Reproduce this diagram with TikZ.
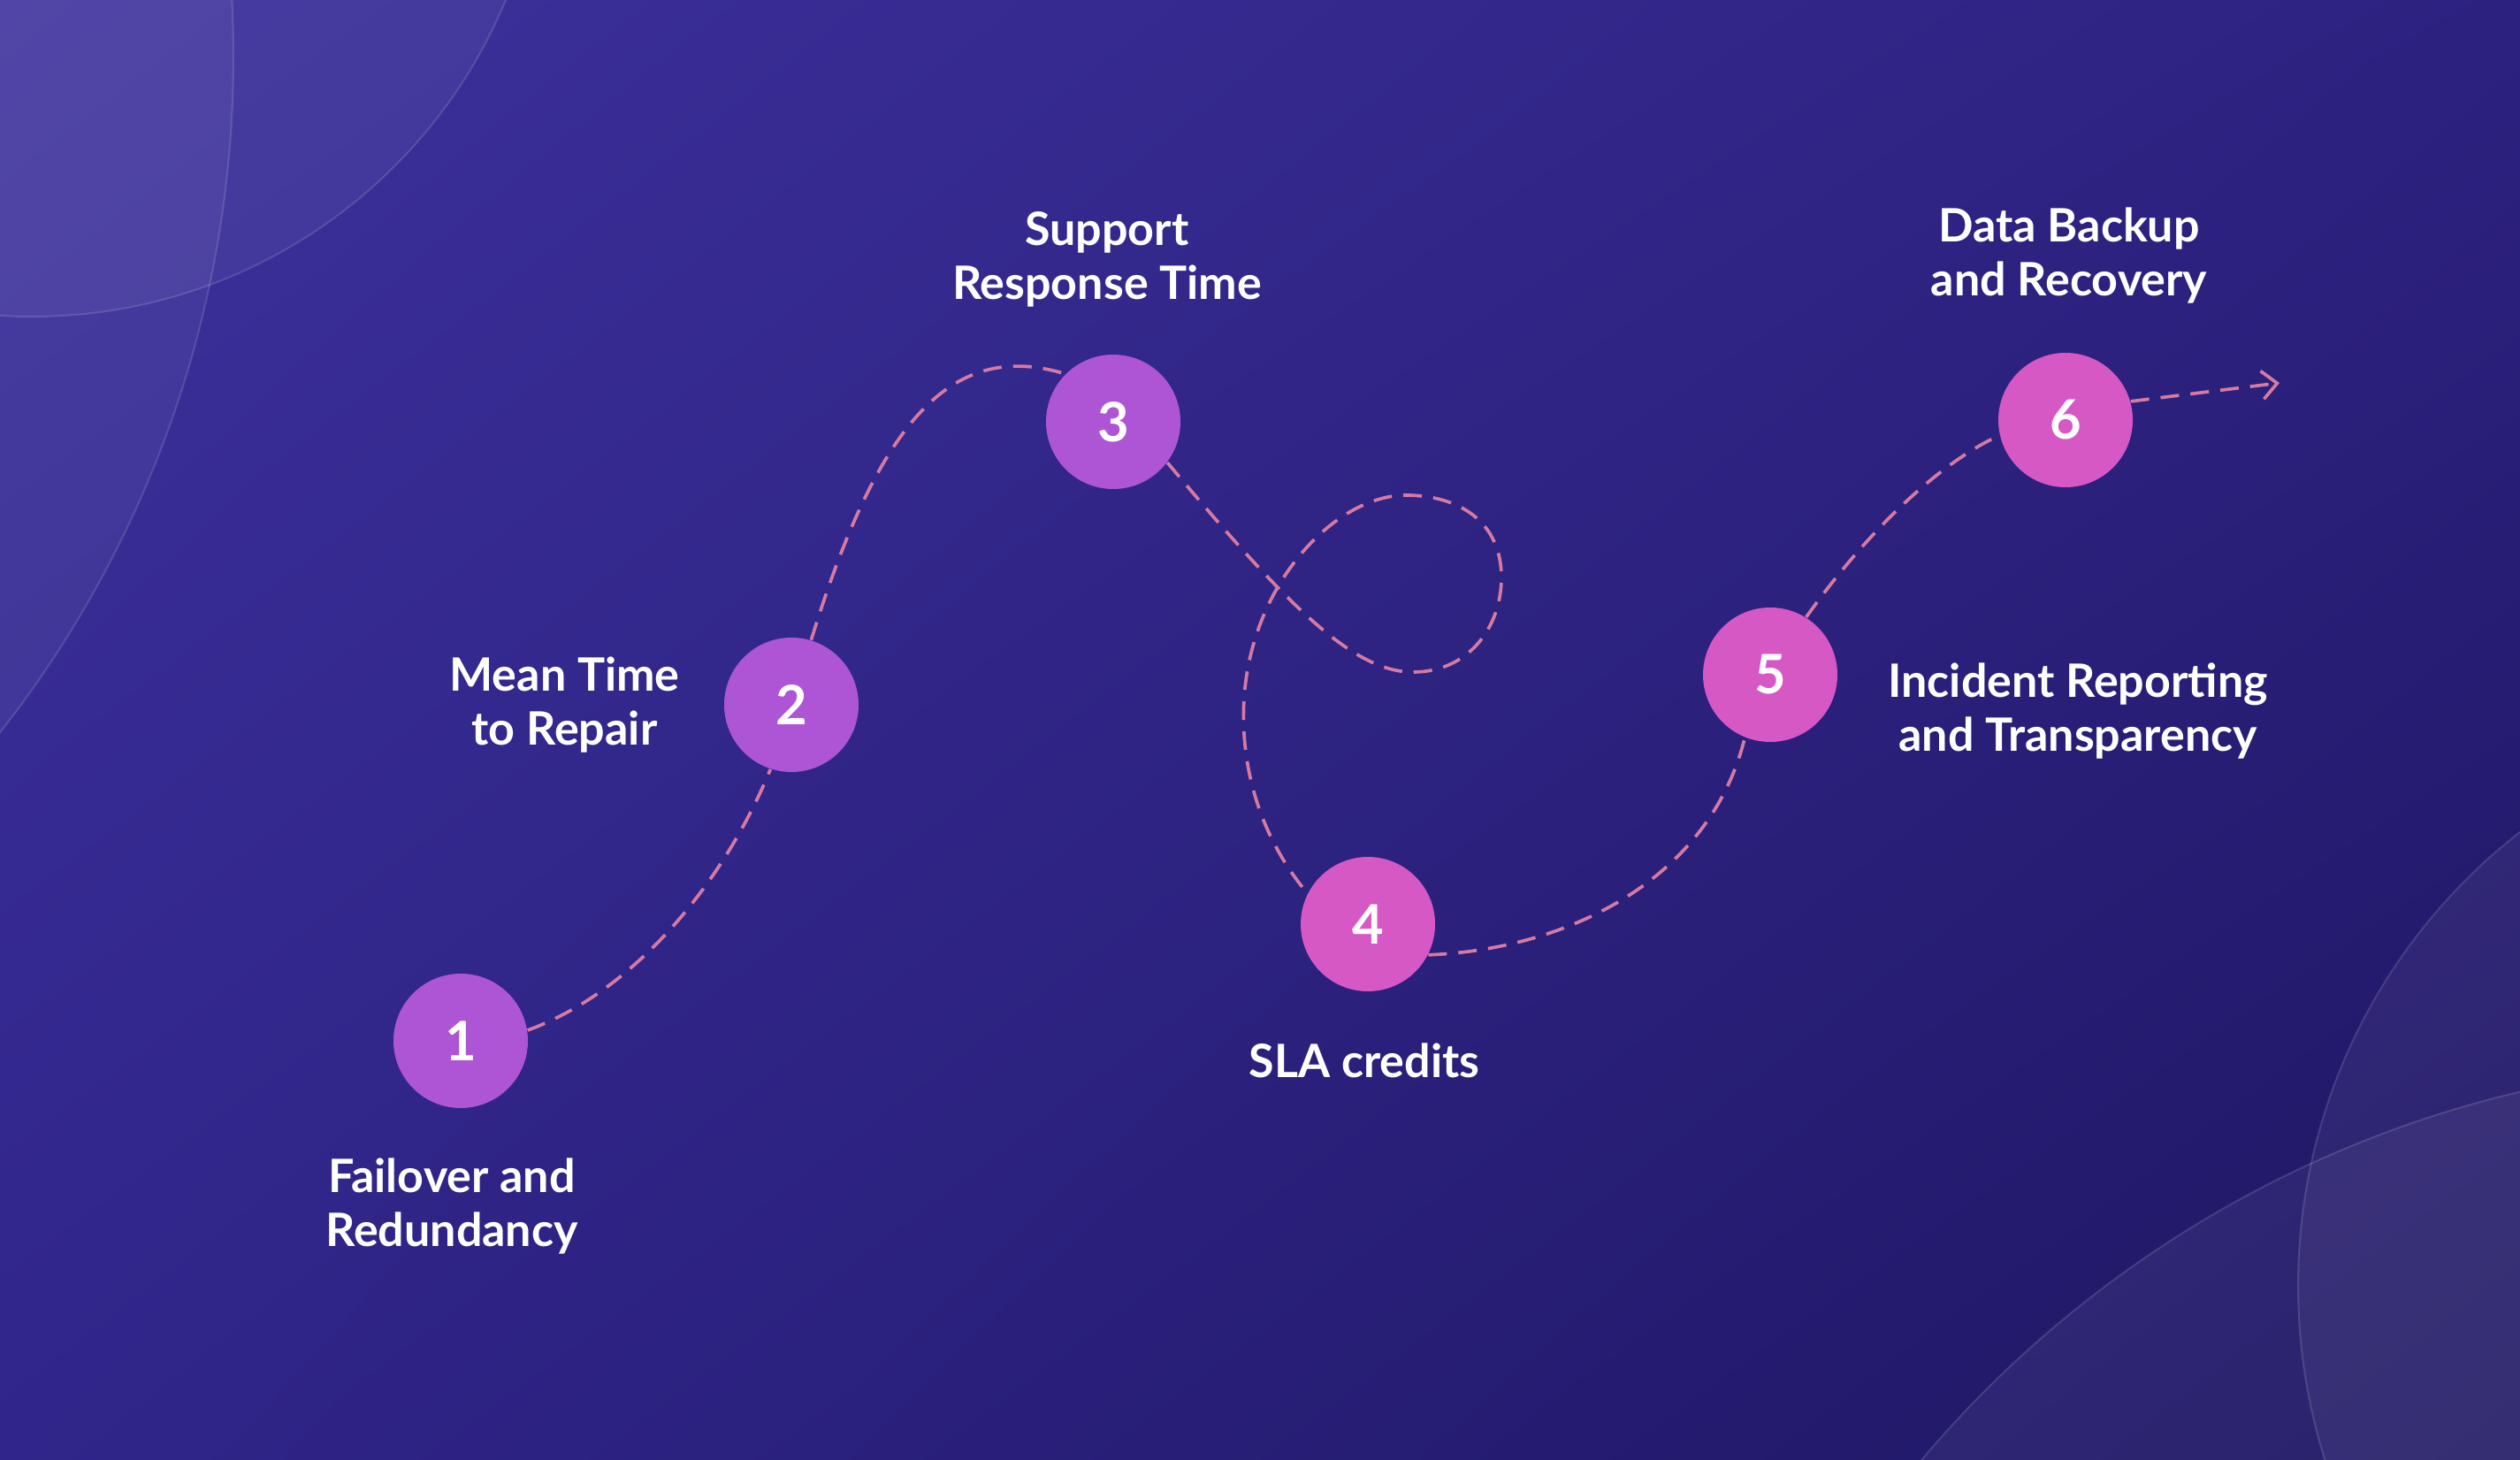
\documentclass[tikz,border=0pt]{standalone}
\usepackage{fontspec}
\setmainfont{Lato}
\usepackage{xcolor}
\usepackage{tikz}
\usetikzlibrary{arrows.meta,positioning,shadings}
\definecolor{bgtl}{HTML}{3D319D}
\definecolor{bgtr}{HTML}{2D2180}
\definecolor{bgbl}{HTML}{30258A}
\definecolor{bgbr}{HTML}{1E1662}
\definecolor{dotpurple}{HTML}{AD55D4}
\definecolor{dotpink}{HTML}{D558C5}
\definecolor{trailpink}{HTML}{D67AA2}

\begin{document}
\begin{tikzpicture}[
  stepdot/.style={circle, minimum size=1.52cm, inner sep=0pt, text=white, font=\fontsize{17.5}{17.5}\selectfont\bfseries},
  lbl/.style={align=center, inner sep=0pt, text=white, font=\fontsize{14.8}{17.5}\selectfont\bfseries},
  trail/.style={draw=trailpink, line width=1.05pt, dash pattern=on 2.1mm off 1.3mm},
  deco/.style={fill=white, fill opacity=0.055, draw=white, draw opacity=0.13, line width=0.6pt}
]
\useasboundingbox (0,0) rectangle (28.5,16.5);
\shade[upper left=bgtl, upper right=bgtr, lower left=bgbl, lower right=bgbr] (0,0) rectangle (28.5,16.5);
% background rings
\begin{scope}
  \clip (0,0) rectangle (28.5,16.5);
  \path[deco] (-9.74,15.86) circle (12.38);
  \path[deco] (0.36,18.72) circle (5.80);
  \path[deco] (32.49,1.96) circle (6.50);
  \path[deco] (31.41,-8.17) circle (12.66);
\end{scope}

% milestones
\node[stepdot, fill=dotpurple] (m1) at (5.21,4.73) {1};
\node[stepdot, fill=dotpurple] (m2) at (8.95,8.53) {2};
\node[stepdot, fill=dotpurple] (m3) at (12.59,11.73) {3};
\node[stepdot, fill=dotpink] (m4) at (15.47,6.05) {4};
\node[stepdot, fill=dotpink] (m5) at (20.02,8.87) {5};
\node[stepdot, fill=dotpink] (m6) at (23.36,11.75) {6};

\node[lbl, below=0.55cm of m1, xshift=-0.1cm] (l1) {Failover and\\Redundancy};
\node[lbl, left=0.49cm of m2] (l2) {Mean Time\\to Repair};
\node[lbl, above=0.52cm of m3, xshift=-0.07cm] (l3) {Support\\Response Time};
\node[lbl, below=0.57cm of m4, xshift=-0.04cm] (l4) {SLA credits};
\node[lbl, right=0.56cm of m5, yshift=-0.41cm] (l5) {Incident Reporting\\and Transparency};
\node[lbl, above=0.54cm of m6, xshift=0.04cm] (l6) {Data Backup\\and Recovery};

% loop points
\coordinate (loopbot) at (15.98,8.90);
\coordinate (loopright) at (16.98,9.97);
\coordinate (looptop) at (15.90,10.90);
\coordinate (loopleft) at (14.07,8.60);
\coordinate (tipend) at (25.78,12.17);

\draw[trail] (m1.9) .. controls (7.2,5.3) and (8.2,6.55) .. (m2.-108);
\draw[trail] (m2.73) .. controls (9.96,11.82) and (10.8,12.65) .. (m3.135);
\draw[trail] (m3.-37) .. controls (14.55,9.66) and (15.3,8.9) .. (loopbot)
  .. controls (16.6,8.9) and (16.98,9.4) .. (loopright)
  .. controls (16.98,10.6) and (16.5,10.9) .. (looptop)
  .. controls (15.1,10.9) and (14.15,9.9) .. (loopleft)
  .. controls (14.02,7.8) and (14.27,7.01) .. (m4.153);
\draw[trail] (m4.-27) .. controls (17.8,5.77) and (19.35,6.6) .. (m5.-112);
\draw[trail] (m5.58) .. controls (20.95,10.26) and (21.78,11.19) .. (m6.-167);
\draw[trail, -{Straight Barb[length=1.7mm,width=3.2mm]}] (m6.16) -- (tipend);
\end{tikzpicture}
\end{document}
